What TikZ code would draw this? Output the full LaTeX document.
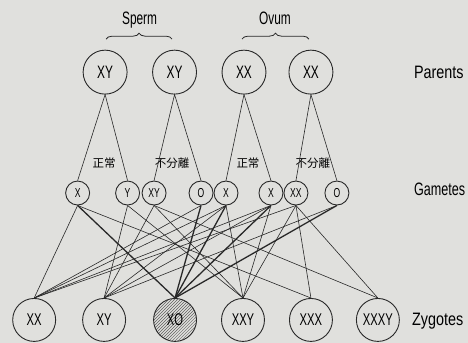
\documentclass[tikz,border=0pt]{standalone}
\usepackage{fontspec}
\setmainfont{Liberation Sans}
\newfontfamily\chromfont{Liberation Sans}[FakeStretch=0.66]
\newfontfamily\labelfont{Liberation Sans}[FakeStretch=0.8]
\newfontfamily\narrowlabelfont{Liberation Sans}[FakeStretch=0.7]
\newfontfamily\jpfont{Noto Sans CJK JP}
\usetikzlibrary{patterns,decorations.pathreplacing}
\definecolor{paper}{RGB}{224,224,221}
\definecolor{ink}{RGB}{40,40,40}
\definecolor{hatch}{RGB}{95,95,95}
\begin{document}
\begin{tikzpicture}[x=1pt,y=1pt,
  every path/.style={draw=ink},
  cell/.style={circle,draw=ink,line width=0.9pt,inner sep=0pt,text=black},
  parent/.style={cell,minimum size=44pt,font=\chromfont\fontsize{18}{18}\selectfont},
  gamete/.style={cell,minimum size=24pt,font=\chromfont\fontsize{13}{13}\selectfont},
  zygote/.style={cell,minimum size=43pt,font=\chromfont\fontsize{17}{17}\selectfont},
  rowlabel/.style={anchor=base west,inner sep=0pt,text=black,font=\labelfont\fontsize{18}{18}\selectfont},
  toplabel/.style={anchor=base,inner sep=0pt,text=black,font=\chromfont\fontsize{18}{18}\selectfont},
  jplabel/.style={inner sep=0pt,text=black,font=\jpfont\fontsize{11.5}{11.5}\selectfont},
  thin link/.style={line width=0.6pt},
  thick link/.style={line width=1.3pt},
  curly/.style={line width=0.8pt,decorate,decoration={brace,amplitude=6pt}}]
\useasboundingbox (0,0) rectangle (468,342);
\fill[paper] (0,0) rectangle (468,342);

% parents
\node[parent] (p1) at (105,270) {XY};
\node[parent] (p2) at (174.5,270) {XY};
\node[parent] (p3) at (244,270) {XX};
\node[parent] (p4) at (311,270) {XX};

% sperm / ovum braces
\coordinate (sa) at (106,303);
\coordinate (sb) at (172,303);
\coordinate (oa) at (242,303);
\coordinate (ob) at (309,303);
\draw[curly] (sa) -- (sb);
\draw[curly] (oa) -- (ob);
\node[toplabel] (sperm) at (139.5,318) {Sperm};
\node[toplabel] (ovum) at (275,318) {Ovum};

% gametes
\node[gamete] (g1) at (77.5,149) {X};
\node[gamete] (g2) at (127.5,149) {Y};
\node[gamete] (g3) at (154,149) {XY};
\node[gamete] (g4) at (201,149) {O};
\node[gamete] (g5) at (226,149) {X};
\node[gamete] (g6) at (271,149) {X};
\node[gamete] (g7) at (296,149) {XX};
\node[gamete] (g8) at (337,149) {O};

% meiosis labels
\node[jplabel] (n1) at (104,179) {正常};
\node[jplabel] (n2) at (172,179) {不分離};
\node[jplabel] (n3) at (248,179) {正常};
\node[jplabel] (n4) at (313,179) {不分離};

% zygotes
\node[zygote] (z1) at (34,22) {XX};
\node[zygote] (z2) at (104,22) {XY};
\node[zygote,pattern=north east lines,pattern color=hatch] (z3) at (175,22) {XO};
\node[zygote] (z4) at (243,22) {XXY};
\node[zygote] (z5) at (311,22) {XXX};
\node[zygote] (z6) at (378,22) {XXXY};

% row labels
\node[rowlabel] (lp) at (414,264) {Parents};
\node[rowlabel,font=\narrowlabelfont\fontsize{18}{18}\selectfont] (lg) at (414,147) {Gametes};
\node[rowlabel] (lz) at (412,16) {Zygotes};

% parents to gametes
\foreach \p/\a/\b in {p1/g1/g2, p2/g3/g4, p3/g5/g6, p4/g7/g8}
  \draw[thin link] (\a.north) -- (\p.south) -- (\b.north);

% gametes to zygotes
\foreach \g/\z in {g1/z1, g4/z1, g5/z1, g6/z1, g7/z1,
                   g2/z2, g3/z2, g5/z2, g6/z2, g8/z2,
                   g2/z4, g3/z4, g5/z4, g6/z4, g7/z4,
                   g1/z5, g7/z5,
                   g3/z6, g7/z6}
  \draw[thin link] (\g.south) -- (\z.north);
\foreach \g in {g1, g4, g5, g6, g8}
  \draw[thick link] (\g.south) -- (z3.north);
\end{tikzpicture}
\end{document}
